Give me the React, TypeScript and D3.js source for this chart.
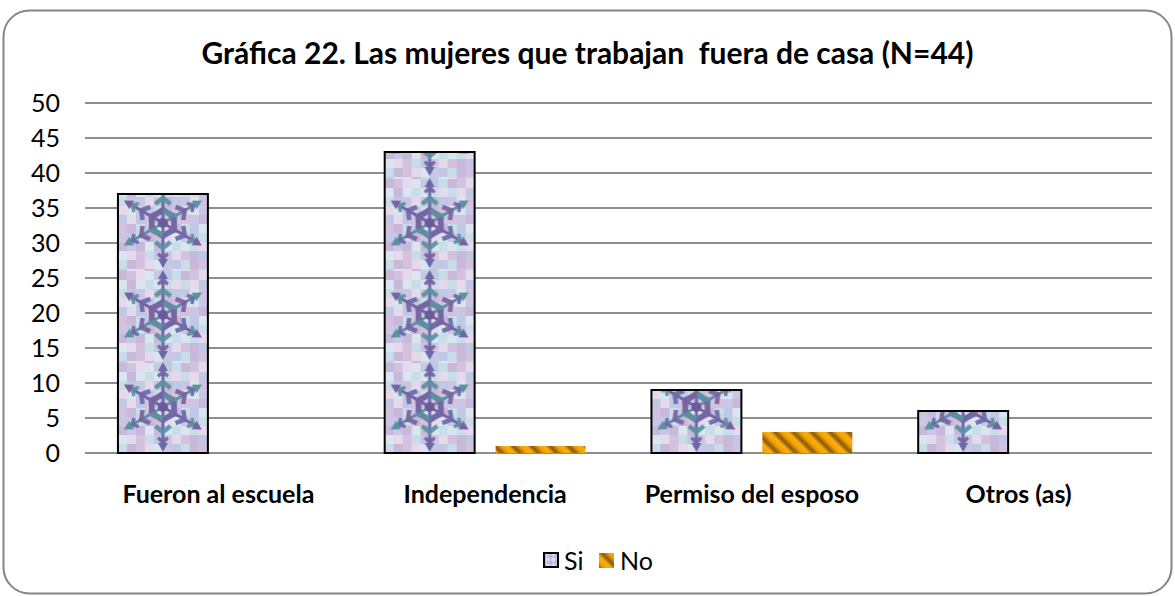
import React from "react";
import * as d3 from "d3";

const categories = ["Fueron al escuela", "Independencia", "Permiso del esposo", "Otros (as)"];
const siValues = [37, 43, 9, 6];
const noValues = [0, 1, 3, 0];
const seriesNames = ["Si", "No"];
const yTicks = [0, 5, 10, 15, 20, 25, 30, 35, 40, 45, 50];
const title = "Gráfica 22. Las mujeres que trabajan  fuera de casa (N=44)";

const W = 1175;
const H = 596;
const plot = { left: 85, right: 1152, top: 103, bottom: 453 };
const FONT = "Lato, 'Open Sans', sans-serif";

const checkerColors = ["#c9dde9", "#cbc6e5", "#e7d9ec", "#c8b8d9", "#bfc8e5", "#d9e6ef", "#d3c1dd"];

function Snowflake({ cx, cy, r }: { cx: number; cy: number; r: number }) {
  const arms = d3.range(6).map((i) => i * 60);
  const armColors = ["#6a6aa8", "#5b92a0", "#7a62a2", "#6a6aa8", "#5b92a0", "#7a62a2"];
  return (
    <g transform={`translate(${cx},${cy})`}>
      {arms.map((a, i) => (
        <g key={i} transform={`rotate(${a})`}>
          <line x1={0} y1={0} x2={0} y2={-r} stroke={armColors[i]} strokeWidth={3} />
          {[0.32, 0.6, 0.85].map((t, j) => {
            const y = -r * t;
            const s = 12 - j * 3;
            return (
              <path
                key={j}
                d={`M0,${y - 4} L${-s},${y + s * 0.35} L${-s * 0.7},${y + s * 0.75} L0,${y + 2} L${s * 0.7},${y + s * 0.75} L${s},${y + s * 0.35} Z`}
                fill={armColors[(i + j) % 6]}
                opacity={0.92}
              />
            );
          })}
          <path d={`M0,${-r - 5} L-5,${-r + 4} L5,${-r + 4} Z`} fill={armColors[i]} />
        </g>
      ))}
      <circle r={5} fill="#6b5a9a" />
    </g>
  );
}

export default function App() {
  const x0 = d3.scaleBand<string>().domain(categories).range([plot.left, plot.right]).paddingInner(0).paddingOuter(0);
  const step = x0.bandwidth();
  const x1 = d3.scaleBand<string>().domain(seriesNames).range([0, step]).paddingInner(0.189).paddingOuter(0.297);
  const y = d3.scaleLinear().domain([0, 50]).range([plot.bottom, plot.top]);
  const bw = x1.bandwidth();
  const tileH = 92;
  const cell = 9;
  const siX0 = (x0(categories[0]) as number) + (x1("Si") as number);

  const checkerCells: { i: number; j: number }[] = [];
  const nx = Math.ceil(bw / cell);
  const ny = Math.ceil(tileH / cell) + 1;
  for (let i = 0; i < nx; i++) for (let j = 0; j < ny; j++) checkerCells.push({ i, j });

  const siData = categories.map((c, k) => ({ c, v: siValues[k] }));
  const noData = categories.map((c, k) => ({ c, v: noValues[k] }));

  return (
    <svg width={W} height={H} style={{ position: "absolute", left: 0, top: 0 }} fontFamily={FONT}>
      <defs>
        <pattern id="siPat" patternUnits="userSpaceOnUse" x={siX0} y={y(0)} width={step} height={tileH}>
          <rect width={step} height={tileH} fill="#ccd0e8" />
          {checkerCells.map(({ i, j }) => (
            <rect
              key={`${i}-${j}`}
              x={i * cell}
              y={tileH - (j + 1) * cell}
              width={cell}
              height={cell}
              fill={checkerColors[(i * 3 + j * 5 + ((i * j) % 3)) % checkerColors.length]}
            />
          ))}
          <Snowflake cx={bw / 2} cy={tileH - 46} r={40} />
          <Snowflake cx={bw / 2} cy={tileH - 46 - tileH} r={40} />
          <Snowflake cx={bw / 2} cy={tileH - 46 + tileH} r={40} />
        </pattern>
        <linearGradient id="stripeGrad" x1="0" x2="1" y1="0" y2="0">
          <stop offset="0" stopColor="#f5a000" />
          <stop offset="0.35" stopColor="#fbae12" />
          <stop offset="0.65" stopColor="#86590a" />
          <stop offset="1" stopColor="#f5a000" />
        </linearGradient>
        <pattern id="noPat" patternUnits="userSpaceOnUse" width={13} height={40} patternTransform="rotate(-45)">
          <rect width={13} height={40} fill="url(#stripeGrad)" />
        </pattern>
        <pattern id="siLeg" patternUnits="userSpaceOnUse" width={6} height={6}>
          <rect width={6} height={6} fill="#c9c9e6" />
          <rect width={3} height={3} fill="#d9dcee" />
          <rect x={3} y={3} width={3} height={3} fill="#b9b6dc" />
        </pattern>
      </defs>

      <rect x={3.5} y={10.5} width={1168} height={583} rx={26} ry={26} fill="#ffffff" stroke="#868686" strokeWidth={2} />

      <text
        x={W / 2}
        y={64}
        textAnchor="middle"
        fontSize={30}
        fontWeight="bold"
        fill="#000"
        style={{ whiteSpace: "pre" }}
      >
        {title}
      </text>

      {yTicks.map((t) => (
        <g key={t}>
          <line x1={plot.left} x2={plot.right} y1={y(t)} y2={y(t)} stroke="#8e8e8e" strokeWidth={2} />
          <text x={60} y={y(t)} dy="0.36em" textAnchor="end" fontSize={25} fill="#000">
            {t}
          </text>
        </g>
      ))}

      {siData.map((d) => (
        <rect
          key={`si-${d.c}`}
          x={(x0(d.c) as number) + (x1("Si") as number)}
          y={y(d.v)}
          width={bw}
          height={y(0) - y(d.v)}
          fill="url(#siPat)"
          stroke="#000"
          strokeWidth={2}
        />
      ))}
      {noData
        .filter((d) => d.v > 0)
        .map((d) => (
          <rect
            key={`no-${d.c}`}
            x={(x0(d.c) as number) + (x1("No") as number)}
            y={y(d.v)}
            width={bw}
            height={y(0) - y(d.v)}
            fill="url(#noPat)"
          />
        ))}

      {categories.map((c) => (
        <text
          key={c}
          x={(x0(c) as number) + step / 2}
          y={503}
          textAnchor="middle"
          fontSize={25}
          fontWeight="bold"
          fill="#000"
        >
          {c}
        </text>
      ))}

      <g>
        <rect x={544} y={553} width={14} height={14} fill="url(#siLeg)" stroke="#000" strokeWidth={2} />
        <text x={564} y={570} fontSize={25} fill="#000">
          {seriesNames[0]}
        </text>
        <rect x={599} y={553} width={15} height={15} fill="url(#noPat)" />
        <text x={620} y={570} fontSize={25} fill="#000">
          {seriesNames[1]}
        </text>
      </g>
    </svg>
  );
}
